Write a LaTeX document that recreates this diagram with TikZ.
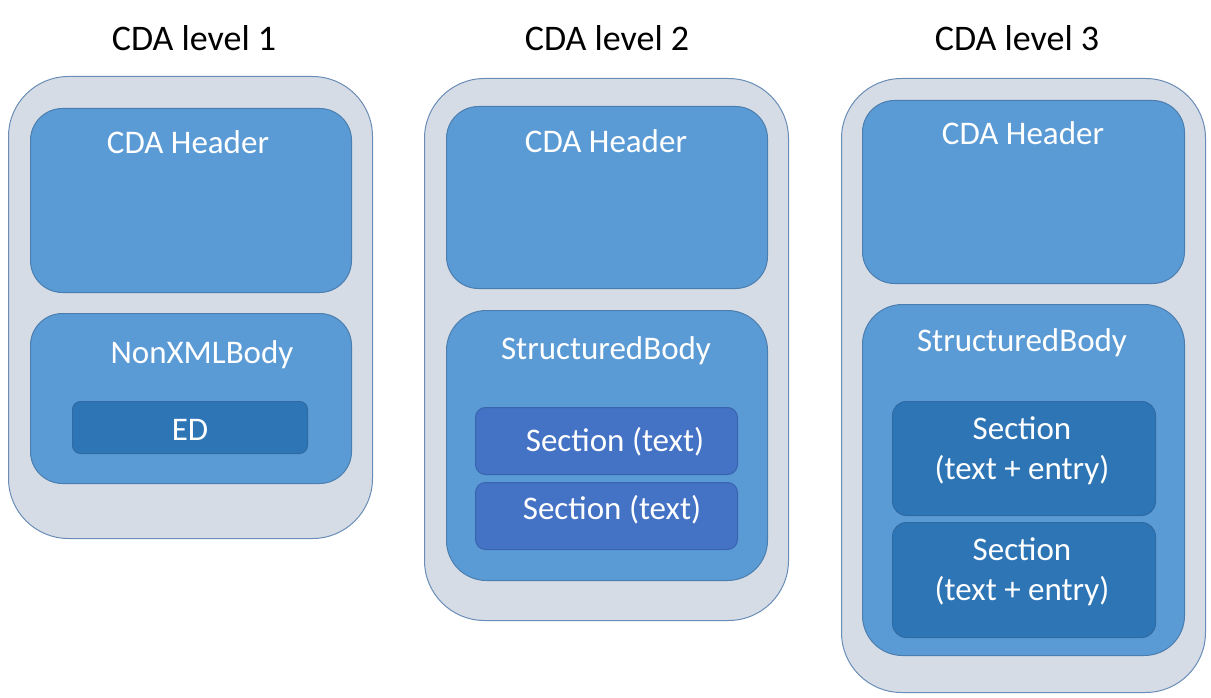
\documentclass[tikz,border=0pt]{standalone}
\usepackage{fontspec}
\setmainfont{Carlito}
\definecolor{outerfill}{HTML}{D6DCE5}
\definecolor{outerline}{HTML}{6A8DB8}
\definecolor{midfill}{HTML}{5B9BD5}
\definecolor{midline}{HTML}{4A7EB0}
\definecolor{darkfill}{HTML}{2E75B6}
\definecolor{darkline}{HTML}{2E6AA3}
\definecolor{secfill}{HTML}{4472C4}
\definecolor{secline}{HTML}{3A64AE}
\tikzset{
  box/.style={anchor=north west, inner sep=0pt, line width=1pt},
  outerbox/.style={box, fill=outerfill, draw=outerline, rounded corners=60pt},
  midbox/.style={box, fill=midfill, draw=midline, rounded corners=32pt},
  darkbox/.style={box, fill=darkfill, draw=darkline, rounded corners=14pt},
  secbox/.style={box, fill=secfill, draw=secline, rounded corners=10pt},
  titletext/.style={font=\fontsize{36pt}{40pt}\selectfont, text=black},
  innertext/.style={font=\fontsize{33pt}{40pt}\selectfont, text=white, align=center},
}
\begin{document}
\begin{tikzpicture}[x=1pt, y=-1pt]
\useasboundingbox (0,0) rectangle (1211,698);
% Level 1
\node[titletext] (t1) at (194,38) {CDA level 1};
\node[outerbox, minimum width=364pt, minimum height=462pt] (o1) at (8,76) {};
\node[midbox, minimum width=321pt, minimum height=184pt] (h1) at (30,108) {};
\node[innertext] (h1t) at (188,142) {CDA Header};
\node[midbox, minimum width=321pt, minimum height=170pt] (b1) at (30,313) {};
\node[innertext] (b1t) at (202,355) {NonXMLBody};
\node[darkbox, rounded corners=8pt, minimum width=235pt, minimum height=52pt] (e1) at (72,401) {};
\node[innertext] (e1t) at (190,430) {ED};
% Level 2
\node[titletext] (t2) at (607,38) {CDA level 2};
\node[outerbox, minimum width=364pt, minimum height=542pt] (o2) at (424,78) {};
\node[midbox, minimum width=321pt, minimum height=182pt] (h2) at (446,106) {};
\node[innertext] (h2t) at (606,141) {CDA Header};
\node[midbox, minimum width=321pt, minimum height=270pt, rounded corners=40pt] (b2) at (446,310) {};
\node[innertext] (b2t) at (606,351) {StructuredBody};
\node[secbox, minimum width=262pt, minimum height=67pt] (s21) at (475,407) {};
\node[innertext] (s21t) at (615,442) {Section (text)};
\node[secbox, minimum width=262pt, minimum height=67pt] (s22) at (475,482) {};
\node[innertext] (s22t) at (612,510) {Section (text)};
% Level 3
\node[titletext] (t3) at (1017,38) {CDA level 3};
\node[outerbox, minimum width=364pt, minimum height=614pt] (o3) at (841,78) {};
\node[midbox, minimum width=322pt, minimum height=183pt] (h3) at (862,100) {};
\node[innertext] (h3t) at (1023,133) {CDA Header};
\node[midbox, minimum width=322pt, minimum height=351pt, rounded corners=40pt] (b3) at (862,304) {};
\node[innertext] (b3t) at (1022,343) {StructuredBody};
\node[darkbox, minimum width=263pt, minimum height=114pt] (s31) at (892,401) {};
\node[innertext] (s31t) at (1022,451) {Section\\(text + entry)};
\node[darkbox, minimum width=263pt, minimum height=115pt] (s32) at (892,522) {};
\node[innertext] (s32t) at (1022,572) {Section\\(text + entry)};
\end{tikzpicture}
\end{document}
